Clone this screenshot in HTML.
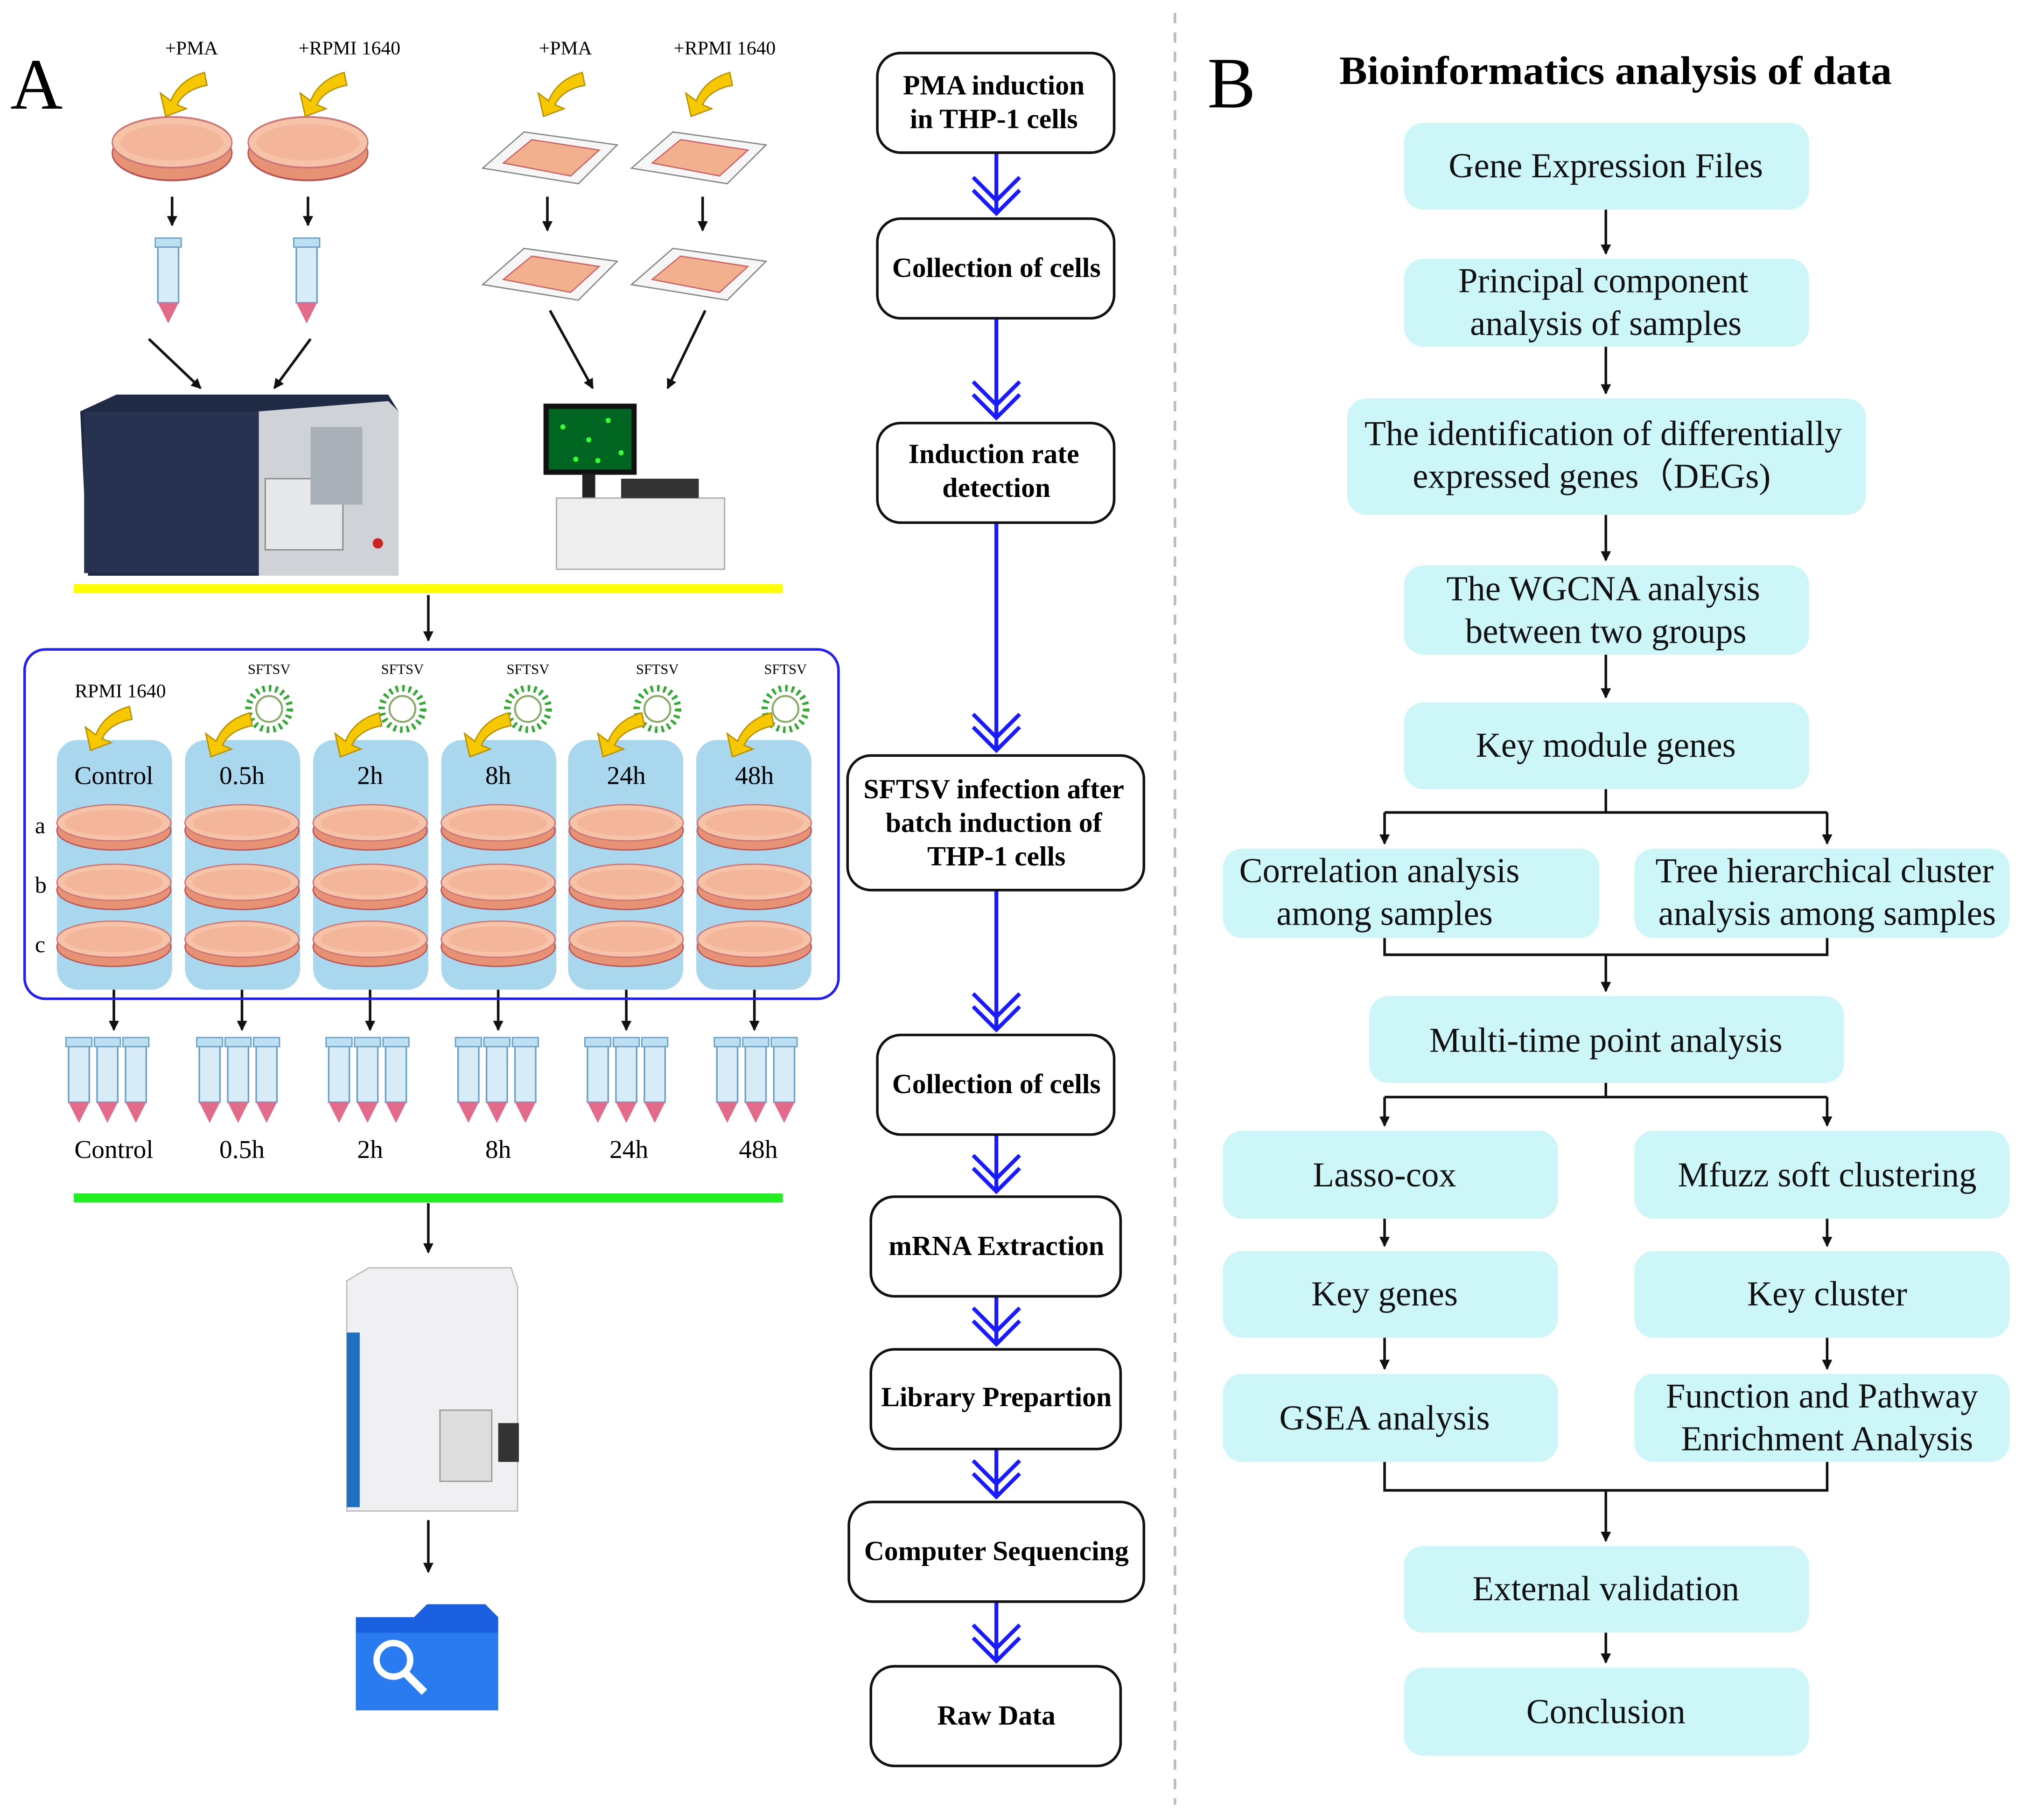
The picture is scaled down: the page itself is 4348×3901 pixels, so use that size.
<!DOCTYPE html>
<html><head><meta charset="utf-8"><style>
html,body{margin:0;padding:0;background:#fff;}
svg{display:block;}
text{font-family:"Liberation Serif",serif;}
</style></head><body>
<svg width="4348" height="3901" viewBox="0 0 1568 1406.8" xmlns="http://www.w3.org/2000/svg">
<defs>
<marker id="ah" markerWidth="8" markerHeight="8" refX="7" refY="4" orient="auto" markerUnits="userSpaceOnUse"><path d="M0,0 L8,4 L0,8 z" fill="#111"/></marker>
<g id="dish"><ellipse cx="0" cy="6" rx="44" ry="15" fill="#e89275" stroke="#b55" stroke-width="1"/><ellipse cx="0" cy="0" rx="44" ry="14" fill="#f6c3a8" stroke="#c77" stroke-width="1"/><ellipse cx="0" cy="0" rx="38" ry="10" fill="#f3b094" opacity=".7"/></g>
<g id="tube"><rect x="-8" y="0" width="16" height="46" fill="#d8ecf8" stroke="#6aa0c8" stroke-width="1.2"/><rect x="-10" y="-4" width="20" height="7" fill="#bcdff2" stroke="#6aa0c8"/><path d="M-8,46 L0,62 L8,46 z" fill="#e26a8a"/></g>
<g id="tube3"><use href="#tube" x="-22"/><use href="#tube" x="0"/><use href="#tube" x="22"/></g>
<g id="virus"><circle r="16" fill="#fff" stroke="#3a3" stroke-width="5" stroke-dasharray="2 3"/><circle r="10" fill="none" stroke="#8a6" stroke-width="1.5"/></g>
<g id="yarrow"><path d="M18,-14 C4,-10 -4,-2 -8,8 L-16,2 L-12,20 L4,14 L-3,11 C0,4 8,-2 20,-4 z" fill="#f5c800" stroke="#b89000" stroke-width="1"/></g>
<g id="slide"><path d="M-52,10 L-20,-18 L52,-8 L22,22 z" fill="#f6f6f6" stroke="#888"/><path d="M-36,6 L-14,-12 L38,-4 L16,16 z" fill="#f2b08f" stroke="#c66"/></g>
<g id="chev"><polyline points="-18,-28 0,-10 18,-28" fill="none" stroke="#1a1aff" stroke-width="3"/><polyline points="-18,-18 0,0 18,-18" fill="none" stroke="#1a1aff" stroke-width="3"/></g>
</defs>

<!-- Panel A -->
<text x="8" y="84" font-size="56">A</text>
<text x="148" y="42" font-size="15" text-anchor="middle">+PMA</text>
<text x="270" y="42" font-size="15" text-anchor="middle">+RPMI 1640</text>
<text x="437" y="42" font-size="15" text-anchor="middle">+PMA</text>
<text x="560" y="42" font-size="15" text-anchor="middle">+RPMI 1640</text>
<g transform="translate(133,110) scale(1.05,1.4)"><use href="#dish"/></g>
<g transform="translate(238,110) scale(1.05,1.4)"><use href="#dish"/></g>
<use href="#yarrow" x="140" y="70"/><use href="#yarrow" x="248" y="70"/>
<use href="#slide" x="425" y="120"/><use href="#slide" x="540" y="120"/>
<use href="#yarrow" x="432" y="70"/><use href="#yarrow" x="546" y="70"/>
<g stroke="#111" stroke-width="2" marker-end="url(#ah)">
<line x1="133" y1="152" x2="133" y2="174"/><line x1="238" y1="152" x2="238" y2="174"/>
<line x1="423" y1="152" x2="423" y2="178"/><line x1="543" y1="152" x2="543" y2="178"/>
<line x1="115" y1="262" x2="155" y2="300"/><line x1="240" y1="262" x2="212" y2="300"/>
<line x1="425" y1="240" x2="458" y2="300"/><line x1="545" y1="240" x2="516" y2="300"/>
<line x1="331" y1="460" x2="331" y2="495"/><line x1="331" y1="930" x2="331" y2="968"/><line x1="331" y1="1175" x2="331" y2="1215"/>
<line x1="88" y1="765" x2="88" y2="796"/><line x1="187" y1="765" x2="187" y2="796"/><line x1="286" y1="765" x2="286" y2="796"/><line x1="385" y1="765" x2="385" y2="796"/><line x1="484" y1="765" x2="484" y2="796"/><line x1="583" y1="765" x2="583" y2="796"/>
</g>
<use href="#slide" x="425" y="210"/><use href="#slide" x="540" y="210"/>
<use href="#tube" x="130" y="188"/><use href="#tube" x="237" y="188"/>
<!-- flow cytometer -->
<path d="M62,318 L90,305 L300,305 L308,318 L308,445 L68,445 z" fill="#1f2a44"/>
<rect x="65" y="318" width="140" height="125" fill="#26324f"/>
<path d="M200,318 L300,310 L308,318 L308,445 L200,445 z" fill="#cfd2d6"/>
<rect x="205" y="370" width="60" height="55" fill="#e6e7e9" stroke="#888"/>
<rect x="240" y="330" width="40" height="60" fill="#aab0b8"/>
<circle cx="292" cy="420" r="4" fill="#c22"/>
<!-- microscope -->
<rect x="420" y="312" width="72" height="55" fill="#111"/><rect x="424" y="316" width="64" height="47" fill="#062"/>
<g fill="#3f3"><circle cx="435" cy="330" r="2"/><circle cx="455" cy="340" r="2"/><circle cx="470" cy="325" r="2"/><circle cx="480" cy="350" r="2"/><circle cx="445" cy="355" r="2"/><circle cx="462" cy="356" r="2"/></g>
<rect x="450" y="367" width="10" height="18" fill="#222"/>
<path d="M430,385 L560,385 L560,440 L430,440 z" fill="#eee" stroke="#aaa"/>
<rect x="480" y="370" width="60" height="15" fill="#333"/>
<line x1="57" y1="455" x2="605" y2="455" stroke="#ffff00" stroke-width="7"/>
<!-- blue box -->
<rect x="19" y="502" width="629" height="270" rx="16" fill="none" stroke="#2222ee" stroke-width="2"/>
<g fill="#a9d8ee">
<rect x="44" y="572" width="89" height="193" rx="16"/><rect x="143" y="572" width="89" height="193" rx="16"/><rect x="242" y="572" width="89" height="193" rx="16"/><rect x="341" y="572" width="89" height="193" rx="16"/><rect x="439" y="572" width="89" height="193" rx="16"/><rect x="538" y="572" width="89" height="193" rx="16"/>
</g>
<text x="93" y="539" font-size="15" text-anchor="middle">RPMI 1640</text>
<g font-size="11" text-anchor="middle">
<text x="208" y="521">SFTSV</text><text x="311" y="521">SFTSV</text><text x="408" y="521">SFTSV</text><text x="508" y="521">SFTSV</text><text x="607" y="521">SFTSV</text></g>
<use href="#virus" x="208" y="548"/><use href="#virus" x="311" y="548"/><use href="#virus" x="408" y="548"/><use href="#virus" x="508" y="548"/><use href="#virus" x="607" y="548"/>
<use href="#yarrow" x="82" y="560"/>
<use href="#yarrow" x="175" y="565"/><use href="#yarrow" x="275" y="565"/><use href="#yarrow" x="375" y="565"/><use href="#yarrow" x="478" y="565"/><use href="#yarrow" x="578" y="565"/>
<g font-size="20" text-anchor="middle">
<text x="88" y="606">Control</text><text x="187" y="606">0.5h</text><text x="286" y="606">2h</text><text x="385" y="606">8h</text><text x="484" y="606">24h</text><text x="583" y="606">48h</text></g>
<g font-size="18"><text x="27" y="644">a</text><text x="27" y="690">b</text><text x="27" y="736">c</text></g>
<g>
<use href="#dish" x="88" y="636"/><use href="#dish" x="88" y="682"/><use href="#dish" x="88" y="726"/>
<use href="#dish" x="187" y="636"/><use href="#dish" x="187" y="682"/><use href="#dish" x="187" y="726"/>
<use href="#dish" x="286" y="636"/><use href="#dish" x="286" y="682"/><use href="#dish" x="286" y="726"/>
<use href="#dish" x="385" y="636"/><use href="#dish" x="385" y="682"/><use href="#dish" x="385" y="726"/>
<use href="#dish" x="484" y="636"/><use href="#dish" x="484" y="682"/><use href="#dish" x="484" y="726"/>
<use href="#dish" x="583" y="636"/><use href="#dish" x="583" y="682"/><use href="#dish" x="583" y="726"/>
</g>
<use href="#tube3" x="83" y="806"/><use href="#tube3" x="184" y="806"/><use href="#tube3" x="284" y="806"/><use href="#tube3" x="384" y="806"/><use href="#tube3" x="484" y="806"/><use href="#tube3" x="584" y="806"/>
<g font-size="20" text-anchor="middle">
<text x="88" y="895">Control</text><text x="187" y="895">0.5h</text><text x="286" y="895">2h</text><text x="385" y="895">8h</text><text x="486" y="895">24h</text><text x="586" y="895">48h</text></g>
<line x1="57" y1="926" x2="605" y2="926" stroke="#22ee22" stroke-width="7"/>
<!-- sequencer -->
<path d="M268,990 L285,980 L395,980 L400,995 L400,1168 L268,1168 z" fill="#f0f0f2" stroke="#bbb"/>
<rect x="268" y="1030" width="10" height="135" fill="#1e6fc0"/>
<rect x="340" y="1090" width="40" height="55" fill="#ddd" stroke="#999"/>
<rect x="385" y="1100" width="16" height="30" fill="#333"/>
<!-- folder -->
<path d="M275,1250 L320,1250 L330,1240 L375,1240 L385,1250 L385,1322 L275,1322 z" fill="#1a5fe0"/>
<rect x="275" y="1262" width="110" height="60" fill="#2a7af0"/>
<circle cx="304" cy="1283" r="13" fill="none" stroke="#fff" stroke-width="5"/>
<line x1="313" y1="1293" x2="328" y2="1308" stroke="#fff" stroke-width="6"/>

<!-- Middle flow -->
<g stroke="#1a1aff" stroke-width="3">
<line x1="770" y1="118" x2="770" y2="163"/><line x1="770" y1="246" x2="770" y2="321"/><line x1="770" y1="404" x2="770" y2="578"/><line x1="770" y1="688" x2="770" y2="794"/><line x1="770" y1="877" x2="770" y2="919"/><line x1="770" y1="1002" x2="770" y2="1037"/><line x1="770" y1="1120" x2="770" y2="1155"/><line x1="770" y1="1238" x2="770" y2="1282"/>
</g>
<use href="#chev" x="770" y="165"/><use href="#chev" x="770" y="323"/><use href="#chev" x="770" y="580"/><use href="#chev" x="770" y="796"/><use href="#chev" x="770" y="921"/><use href="#chev" x="770" y="1039"/><use href="#chev" x="770" y="1157"/><use href="#chev" x="770" y="1284"/>
<g fill="#fff" stroke="#111" stroke-width="2">
<rect x="678" y="41" width="183" height="77" rx="18"/>
<rect x="678" y="169" width="183" height="77" rx="18"/>
<rect x="678" y="327" width="183" height="77" rx="18"/>
<rect x="655" y="584" width="229" height="104" rx="18"/>
<rect x="678" y="800" width="183" height="77" rx="18"/>
<rect x="673" y="925" width="193" height="77" rx="18"/>
<rect x="673" y="1043" width="193" height="77" rx="18"/>
<rect x="656" y="1161" width="228" height="77" rx="18"/>
<rect x="673" y="1288" width="193" height="77" rx="18"/>
</g>
<g font-size="21.5" font-weight="bold" text-anchor="middle">
<text x="768" y="73">PMA induction</text><text x="768" y="99">in THP-1 cells</text>
<text x="770" y="214">Collection of cells</text>
<text x="768" y="358">Induction rate</text><text x="770" y="384">detection</text>
<text x="768" y="617">SFTSV infection after</text><text x="768" y="643">batch induction of</text><text x="770" y="669">THP-1 cells</text>
<text x="770" y="845">Collection of cells</text>
<text x="770" y="970">mRNA Extraction</text>
<text x="770" y="1087">Library Prepartion</text>
<text x="770" y="1206">Computer Sequencing</text>
<text x="770" y="1333">Raw Data</text>
</g>

<line x1="908" y1="10" x2="908" y2="1395" stroke="#bbb" stroke-width="2" stroke-dasharray="8 7"/>

<!-- Panel B -->
<text x="933" y="83" font-size="56">B</text>
<text x="1035" y="65" font-size="31" font-weight="bold" textLength="427" lengthAdjust="spacingAndGlyphs">Bioinformatics analysis of data</text>
<g stroke="#111" stroke-width="2" fill="none">
<line x1="1241" y1="162" x2="1241" y2="196" marker-end="url(#ah)"/>
<line x1="1241" y1="268" x2="1241" y2="304" marker-end="url(#ah)"/>
<line x1="1241" y1="398" x2="1241" y2="433" marker-end="url(#ah)"/>
<line x1="1241" y1="506" x2="1241" y2="539" marker-end="url(#ah)"/>
<polyline points="1241,610 1241,628"/><polyline points="1070,628 1412,628"/>
<line x1="1070" y1="628" x2="1070" y2="652" marker-end="url(#ah)"/><line x1="1412" y1="628" x2="1412" y2="652" marker-end="url(#ah)"/>
<polyline points="1070,725 1070,738 1412,738 1412,725"/>
<line x1="1241" y1="738" x2="1241" y2="766" marker-end="url(#ah)"/>
<polyline points="1241,837 1241,848"/><polyline points="1070,848 1412,848"/>
<line x1="1070" y1="848" x2="1070" y2="870" marker-end="url(#ah)"/><line x1="1412" y1="848" x2="1412" y2="870" marker-end="url(#ah)"/>
<line x1="1070" y1="942" x2="1070" y2="963" marker-end="url(#ah)"/><line x1="1412" y1="942" x2="1412" y2="963" marker-end="url(#ah)"/>
<line x1="1070" y1="1034" x2="1070" y2="1058" marker-end="url(#ah)"/><line x1="1412" y1="1034" x2="1412" y2="1058" marker-end="url(#ah)"/>
<polyline points="1070,1130 1070,1152 1412,1152 1412,1130"/>
<line x1="1241" y1="1152" x2="1241" y2="1191" marker-end="url(#ah)"/>
<line x1="1241" y1="1262" x2="1241" y2="1285" marker-end="url(#ah)"/>
</g>
<g fill="#cdf6f8">
<rect x="1085" y="95" width="313" height="67" rx="15"/>
<rect x="1085" y="200" width="313" height="68" rx="15"/>
<rect x="1041" y="308" width="401" height="90" rx="15"/>
<rect x="1085" y="437" width="313" height="69" rx="15"/>
<rect x="1085" y="543" width="313" height="67" rx="15"/>
<rect x="945" y="656" width="291" height="69" rx="15"/>
<rect x="1263" y="656" width="290" height="69" rx="15"/>
<rect x="1058" y="770" width="367" height="67" rx="15"/>
<rect x="945" y="874" width="259" height="68" rx="15"/>
<rect x="1263" y="874" width="290" height="68" rx="15"/>
<rect x="945" y="967" width="259" height="67" rx="15"/>
<rect x="1263" y="967" width="290" height="67" rx="15"/>
<rect x="945" y="1062" width="259" height="68" rx="15"/>
<rect x="1263" y="1062" width="290" height="68" rx="15"/>
<rect x="1085" y="1195" width="313" height="67" rx="15"/>
<rect x="1085" y="1289" width="313" height="68" rx="15"/>
</g>
<g font-size="27" text-anchor="middle" fill="#111">
<text x="1241" y="137">Gene Expression Files</text>
<text x="1239" y="226">Principal component</text><text x="1241" y="259">analysis of  samples</text>
<text x="1239" y="344">The identification of differentially</text><text x="1230" y="377">expressed genes（DEGs)</text>
<text x="1239" y="464">The WGCNA analysis</text><text x="1241" y="497">between two groups</text>
<text x="1241" y="585">Key module genes</text>
<text x="1066" y="682">Correlation analysis</text><text x="1070" y="715">among samples</text>
<text x="1410" y="682">Tree hierarchical cluster</text><text x="1412" y="715">analysis  among samples</text>
<text x="1241" y="813">Multi-time point analysis</text>
<text x="1070" y="917">Lasso-cox</text>
<text x="1412" y="917">Mfuzz soft clustering</text>
<text x="1070" y="1009">Key genes</text>
<text x="1412" y="1009">Key cluster</text>
<text x="1070" y="1105">GSEA analysis</text>
<text x="1408" y="1088">Function and Pathway</text><text x="1412" y="1121">Enrichment Analysis</text>
<text x="1241" y="1237">External validation</text>
<text x="1241" y="1332">Conclusion</text>
</g>
</svg>
</body></html>
